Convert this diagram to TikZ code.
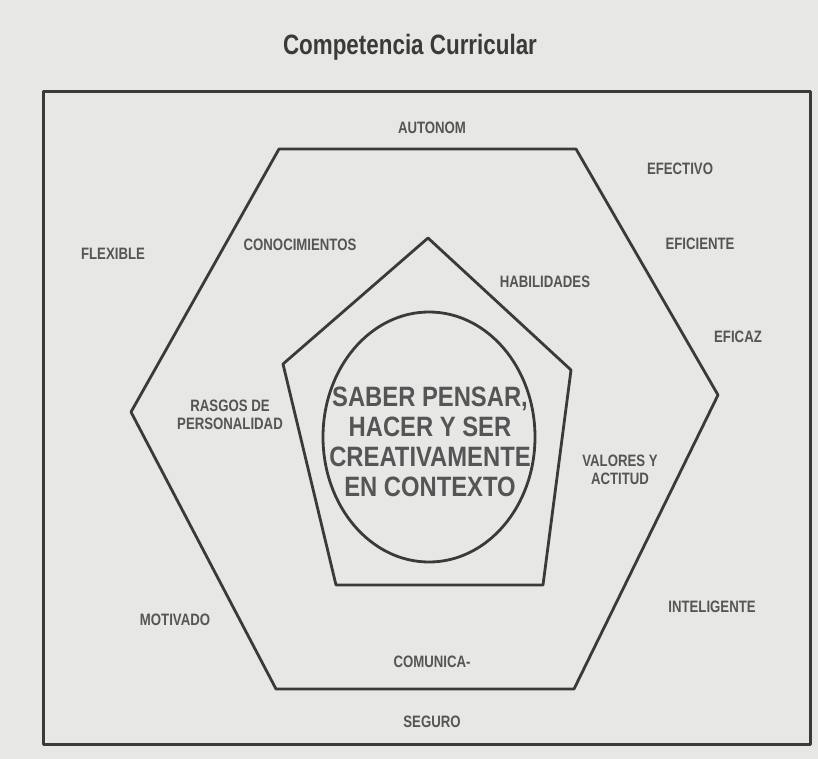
\documentclass[tikz,border=0pt]{standalone}
\usepackage{fontspec}
\setmainfont{Liberation Sans}
\newfontfamily\narrowfont[FakeStretch=0.8]{Liberation Sans}
\newfontfamily\corefont[FakeStretch=0.85]{Liberation Sans}
\usetikzlibrary{shapes.geometric}
\definecolor{paper}{HTML}{E7E7E5}
\definecolor{ink}{HTML}{3A3A3A}
\definecolor{print}{HTML}{555555}

\begin{document}
\begin{tikzpicture}[x=1pt, y=-1pt,
  word/.style={font=\narrowfont\bfseries\fontsize{16.5}{18}\selectfont,
    text=print, align=center, inner sep=0pt},
  core/.style={font=\corefont\bfseries\fontsize{28}{30}\selectfont,
    text=print, align=center, inner sep=0pt},
  title/.style={font=\narrowfont\bfseries\fontsize{28}{30}\selectfont,
    text=ink, inner sep=0pt},
  outline/.style={draw=ink, line width=2.8pt, line join=round}
]

% Page
\fill[paper] (0,0) rectangle (818,759);
\useasboundingbox (0,0) rectangle (818,759);

\node[title] (head) at (410,47) {Competencia Curricular};

% Frames
\draw[outline, line width=3pt] (43,92) rectangle (810,744);
\draw[outline] (279,149) -- (576,149) -- (718,395) -- (574,689)
  -- (276,689) -- (131,412) -- cycle;
\draw[outline] (428,238) -- (571,370) -- (543,585) -- (336,585)
  -- (283,364) -- cycle;
\node[outline, ellipse, minimum width=212pt, minimum height=250pt,
  inner sep=0pt] (centre) at (429,437) {};

% Centre
\node[core] (saber) at (430,442) {SABER PENSAR,\\HACER Y SER\\CREATIVAMENTE\\EN CONTEXTO};

% Inner ring
\node[word] (conoc) at (300,245) {CONOCIMIENTOS};
\node[word] (habil) at (545,282) {HABILIDADES};
\node[word] (rasgos) at (230,415) {RASGOS DE\\PERSONALIDAD};
\node[word] (valores) at (620,470) {VALORES Y\\ACTITUD};
\node[word] (comun) at (432,662) {COMUNICA-};

% Outer ring
\node[word] (auton) at (432,128) {AUTONOM};
\node[word] (efect) at (680,169) {EFECTIVO};
\node[word] (flex) at (113,254) {FLEXIBLE};
\node[word] (efic) at (700,244) {EFICIENTE};
\node[word] (eficaz) at (738,337) {EFICAZ};
\node[word] (motiv) at (175,620) {MOTIVADO};
\node[word] (intel) at (712,607) {INTELIGENTE};
\node[word] (seguro) at (432,722) {SEGURO};

\end{tikzpicture}
\end{document}
